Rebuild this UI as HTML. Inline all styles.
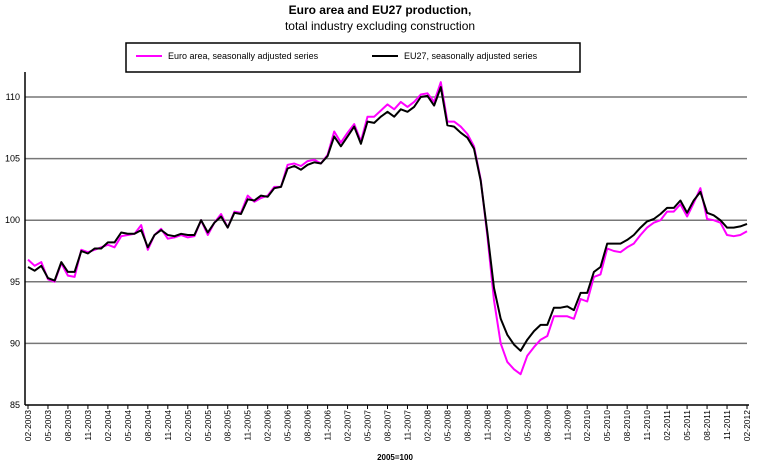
<!DOCTYPE html>
<html><head><meta charset="utf-8"><style>
body{margin:0;background:#fff;}
svg{display:block;font-family:"Liberation Sans",Arial,sans-serif;}
</style></head><body>
<svg id="chart" width="757" height="464" viewBox="0 0 757 464">
<text x="380" y="14" text-anchor="middle" font-size="12" font-weight="bold">Euro area and EU27 production,</text>
<text x="380" y="30" text-anchor="middle" font-size="12">total industry excluding construction</text>
<g>
<rect x="126" y="43" width="454" height="29" fill="#fff" stroke="#000" stroke-width="1.5"/>
<line x1="136" y1="56" x2="162" y2="56" stroke="#ff00ff" stroke-width="2"/>
<text x="168" y="59" font-size="9">Euro area, seasonally adjusted series</text>
<line x1="372" y1="56" x2="398" y2="56" stroke="#000" stroke-width="2"/>
<text x="404" y="59" font-size="9">EU27, seasonally adjusted series</text>
</g>
<g id="grid"></g><g id="axes"></g><g id="series"></g>
<text x="395" y="460" text-anchor="middle" font-size="8" font-weight="bold">2005=100</text>
</svg>
<script>
const yTicks=[85,90,95,100,105,110];
const xLabels=["02-2003","05-2003","08-2003","11-2003","02-2004","05-2004","08-2004","11-2004","02-2005","05-2005","08-2005","11-2005","02-2006","05-2006","08-2006","11-2006","02-2007","05-2007","08-2007","11-2007","02-2008","05-2008","08-2008","11-2008","02-2009","05-2009","08-2009","11-2009","02-2010","05-2010","08-2010","11-2010","02-2011","05-2011","08-2011","11-2011","02-2012"];
const euroArea=[96.8,96.3,96.6,95.2,95.0,96.5,95.5,95.4,97.6,97.4,97.6,
97.8,98.0,97.8,98.7,98.8,98.9,99.6,97.6,98.8,99.3,98.5,98.6,
98.8,98.6,98.7,100.0,98.8,99.8,100.5,99.4,100.7,100.6,102.0,101.5,
101.8,102.0,102.7,102.7,104.5,104.6,104.4,104.8,104.9,104.6,105.3,107.2,
106.3,107.1,107.8,106.4,108.4,108.4,108.9,109.4,109.0,109.6,109.2,109.6,
110.2,110.3,109.6,111.2,108.0,108.0,107.6,107.0,106.0,103.3,98.7,93.5,
90.0,88.5,87.9,87.5,89.0,89.7,90.3,90.6,92.2,92.2,92.2,92.0,
93.6,93.4,95.4,95.6,97.7,97.5,97.4,97.8,98.1,98.8,99.4,99.8,
100.0,100.7,100.7,101.3,100.3,101.4,102.6,100.1,100.0,99.8,98.8,98.7,
98.8,99.1];
const eu27=[96.2,95.9,96.3,95.3,95.1,96.6,95.8,95.8,97.5,97.3,97.7,
97.7,98.2,98.2,99.0,98.9,98.9,99.2,97.8,98.8,99.2,98.8,98.7,
98.9,98.8,98.8,100.0,99.0,99.8,100.3,99.4,100.6,100.5,101.7,101.6,
102.0,101.9,102.6,102.7,104.2,104.4,104.1,104.5,104.7,104.6,105.2,106.8,
106.0,106.8,107.6,106.2,108.0,107.9,108.4,108.8,108.4,109.0,108.8,109.2,
110.0,110.1,109.3,110.8,107.7,107.6,107.1,106.7,105.8,103.2,99.0,94.5,
92.0,90.7,89.9,89.4,90.3,91.0,91.5,91.5,92.9,92.9,93.0,92.7,
94.1,94.1,95.8,96.2,98.1,98.1,98.1,98.4,98.8,99.4,99.9,100.1,
100.5,101.0,101.0,101.6,100.6,101.6,102.3,100.6,100.4,100.0,99.4,99.4,
99.5,99.7];
const NS="http://www.w3.org/2000/svg";
const X0=28,X1=747,Y85=405,Y110=97;
const n=euroArea.length;
function xs(i){return X0+(X1-X0)*i/(n-1);}
function ys(v){return Y85+(v-85)*(Y110-Y85)/25;}
function mk(t,a,p){const e=document.createElementNS(NS,t);for(const k in a)e.setAttribute(k,a[k]);p.appendChild(e);return e;}
const grid=document.getElementById('grid'),axes=document.getElementById('axes'),ser=document.getElementById('series');
yTicks.forEach(v=>{
  if(v>85){const g=mk('line',{x1:25,x2:747,y1:ys(v),y2:ys(v),stroke:'#777','stroke-width':1.5},grid);
  
  }
  const t=mk('text',{x:20,y:ys(v)+3,'text-anchor':'end','font-size':9},axes);
  t.textContent=v;
  
  
});
const ya=mk('line',{x1:25,x2:25,y1:72,y2:405,stroke:'#000','stroke-width':1.5},axes);


const xa=mk('line',{x1:25,x2:749,y1:405,y2:405,stroke:'#000','stroke-width':1.5},axes);


xLabels.forEach((l,k)=>{
  const x=xs(k*3);
  mk('line',{x1:x,x2:x,y1:405,y2:409,stroke:'#000','stroke-width':1},axes);
  const t=mk('text',{x:0,y:0,'text-anchor':'end','font-size':8.5,transform:`translate(${x+3},${410}) rotate(-90)`},axes);
  t.textContent=l;
  
  
});
function line(arr,col,name){
  const d=arr.map((v,i)=>(i?'L':'M')+xs(i).toFixed(1)+','+ys(v).toFixed(1)).join('');
  const p=mk('path',{d:d,fill:'none',stroke:col,'stroke-width':2,'stroke-linejoin':'round'},ser);
  
  
}
line(euroArea,'#ff00ff','euro-area-line');
line(eu27,'#000','eu27-line');
</script>
</body></html>
